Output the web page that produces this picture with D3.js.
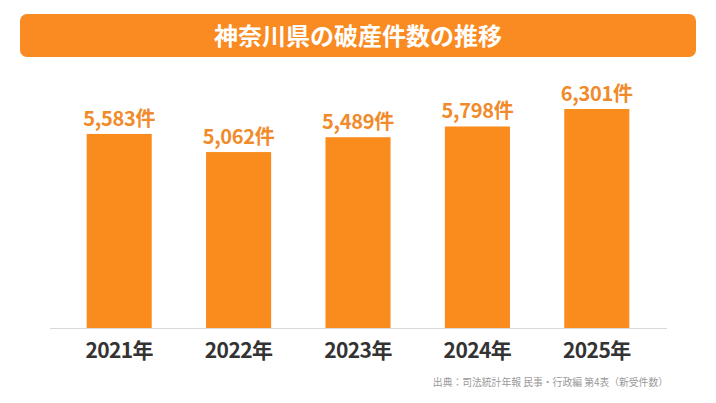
<!DOCTYPE html>
<html>
<head>
<meta charset="utf-8">
<script src="https://cdn.jsdelivr.net/npm/d3@7"></script>
<style>
  body { margin: 0; background: #fff; }
  svg { display: block; font-family: "Noto Sans CJK JP", "Noto Sans", sans-serif; }
</style>
</head>
<body>
<div class="graph"></div>
<script>
var title = '神奈川県の破産件数の推移';
var years = ['2021年', '2022年', '2023年', '2024年', '2025年'];
var counts = [5583, 5062, 5489, 5798, 6301];
var source = '出典：司法統計年報 民事・行政編 第4表（新受件数）';

var W = 716, H = 403;
var baseY = 328;

var svg = d3.select('.graph')
  .append('svg')
  .attr('width', W)
  .attr('height', H);

// title banner
svg.append('rect')
  .attr('x', 20).attr('y', 14)
  .attr('width', 676).attr('height', 43)
  .attr('rx', 7)
  .attr('fill', '#f98b22');
svg.append('text')
  .attr('x', 358).attr('y', 36)
  .attr('dy', '0.36em')
  .attr('text-anchor', 'middle')
  .attr('fill', '#fff')
  .attr('font-size', 24)
  .attr('font-weight', 700)
  .text(title);

var x = d3.scaleBand()
  .domain(years)
  .range([59.5, 656.5])
  .paddingInner(0.455)
  .paddingOuter(0.2275);

// 0 at baseline, 6301 reaches y=109
var y = d3.scaleLinear()
  .domain([0, 7000])
  .range([baseY, baseY - 243.3]);

var data = years.map(function (d, i) { return { year: d, count: counts[i] }; });

svg.append('g')
  .selectAll('rect.bar')
  .data(data)
  .enter()
  .append('rect')
  .attr('class', 'bar')
  .attr('x', function (d) { return x(d.year); })
  .attr('y', function (d) { return y(d.count); })
  .attr('width', x.bandwidth())
  .attr('height', function (d) { return baseY - y(d.count); })
  .attr('fill', '#fa8c1e');

// value labels
svg.append('g')
  .selectAll('text')
  .data(data)
  .enter()
  .append('text')
  .attr('x', function (d) { return x(d.year) + x.bandwidth() / 2; })
  .attr('y', function (d) { return y(d.count) - 8; })
  .attr('text-anchor', 'middle')
  .attr('fill', '#f18a2a')
  .attr('font-size', 20)
  .attr('font-weight', 700)
  .attr('letter-spacing', -0.3)
  .text(function (d) { return d3.format(',')(d.count) + '件'; });

// baseline
svg.append('line')
  .attr('x1', 50).attr('x2', 667)
  .attr('y1', baseY + 0.5).attr('y2', baseY + 0.5)
  .attr('stroke', '#d9d9d9')
  .attr('stroke-width', 1.2);

// year labels via bottom axis, domain line hidden
var axis = svg.append('g')
  .attr('transform', 'translate(0,' + baseY + ')')
  .call(d3.axisBottom(x).tickSize(0).tickPadding(15));
axis.select('.domain').remove();
axis.selectAll('text')
  .attr('fill', '#333')
  .attr('font-size', 21)
  .attr('font-weight', 700)
  .attr('letter-spacing', -0.6)
  .attr('font-family', '"Noto Sans CJK JP", "Noto Sans", sans-serif');

svg.append('text')
  .attr('x', 668).attr('y', 383)
  .attr('dy', '0.35em')
  .attr('text-anchor', 'end')
  .attr('fill', '#999')
  .attr('font-size', 9.8)
  .text(source);
</script>
</body>
</html>
